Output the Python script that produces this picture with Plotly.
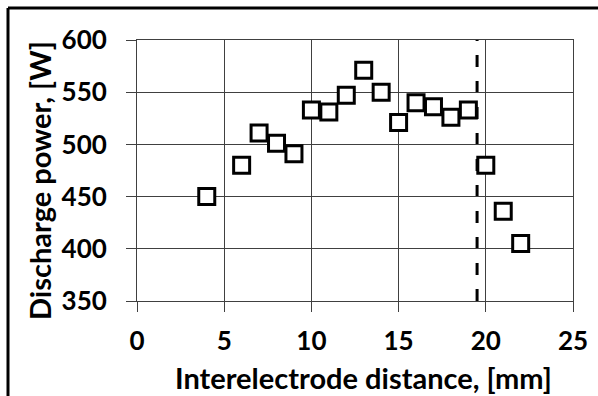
import plotly.graph_objects as go

distance_mm = [4, 6, 7, 8, 9, 10, 11, 12, 13, 14, 15, 16, 17, 18, 19, 20, 21, 22]
power_w = [450, 480, 511, 501, 491, 533, 531, 547, 571, 550, 521, 540, 536, 526, 533, 480, 436, 405]
marker_line_x = 19.5
x_ticks = [0, 5, 10, 15, 20, 25]
y_ticks = [350, 400, 450, 500, 550, 600]
x_title = "Interelectrode distance, [mm]"
y_title = "Discharge power, [W]"

W, H = 598, 396
L, R, T, B = 137, 25, 40, 95
pw, ph = W - L - R, H - T - B

font_family = "Lato, 'Open Sans', sans-serif"


def px_x(p):
    return (p - L) / pw


def px_y(p):
    return 1 - (p - T) / ph


fig = go.Figure()
fig.add_trace(go.Scatter(
    x=distance_mm, y=power_w, mode="markers",
    marker=dict(symbol="square", size=16, color="white",
                line=dict(color="black", width=3)),
    showlegend=False, cliponaxis=False, hoverinfo="skip",
))

fig.add_shape(type="line", xref="x", yref="y",
              x0=marker_line_x, x1=marker_line_x, y0=350, y1=600,
              line=dict(color="black", width=3, dash="12px,14px"), layer="below")

# outer chart frame (top and left edges visible)
fig.add_shape(type="line", xref="paper", yref="paper",
              x0=px_x(8), x1=px_x(W + 5), y0=px_y(8), y1=px_y(8),
              line=dict(color="black", width=3))
fig.add_shape(type="line", xref="paper", yref="paper",
              x0=px_x(8), x1=px_x(8), y0=px_y(8), y1=px_y(H + 5),
              line=dict(color="black", width=3))

axis_common = dict(
    showgrid=True, gridcolor="#404040", gridwidth=1,
    showline=True, linecolor="#404040", linewidth=1, mirror=True,
    ticks="outside", ticklen=10, tickcolor="#404040", tickwidth=1,
    zeroline=False,
    tickfont=dict(family=font_family, size=26, color="black", weight="bold"),
)

fig.update_xaxes(range=[0, 25], tickvals=x_ticks, ticktext=[str(v) for v in x_ticks],
                 ticklabelstandoff=7, **axis_common)
fig.update_yaxes(range=[350, 600], tickvals=y_ticks, ticktext=[str(v) for v in y_ticks],
                 ticklabelstandoff=14, **axis_common)

title_font = dict(family=font_family, size=29, color="black", weight="bold")
fig.add_annotation(text=x_title, xref="paper", yref="paper",
                   x=px_x(363), y=px_y(377), xanchor="center", yanchor="middle",
                   showarrow=False, font=title_font, borderpad=0)
fig.add_annotation(text=y_title, xref="paper", yref="paper",
                   x=px_x(39), y=px_y(181), xanchor="center", yanchor="middle",
                   textangle=-90, showarrow=False, font=title_font, borderpad=0)

fig.update_layout(
    width=W, height=H,
    margin=dict(l=L, r=R, t=T, b=B, autoexpand=False),
    paper_bgcolor="white", plot_bgcolor="white",
)

fig.write_html("out.html", config={"displayModeBar": False},
               post_script="document.body.style.margin='0';document.body.style.overflow='hidden';")
